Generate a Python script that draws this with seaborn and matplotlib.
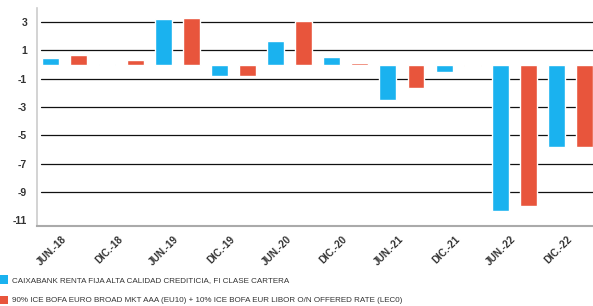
import matplotlib
matplotlib.use("Agg")
import matplotlib.pyplot as plt
import seaborn as sns
import pandas as pd
from matplotlib.patches import Patch

categories = ["JUN.-18", "DIC.-18", "JUN.-19", "DIC.-19", "JUN.-20", "DIC.-20",
              "JUN.-21", "DIC.-21", "JUN.-22", "DIC.-22"]
fund_values = [0.5, 0.02, 3.2, -0.8, 1.7, 0.55, -2.5, -0.55, -10.3, -5.8]
bench_values = [0.7, 0.35, 3.3, -0.8, 3.1, 0.15, -1.65, -0.1, -10.0, -5.8]
series_names = ["CAIXABANK RENTA FIJA ALTA CALIDAD CREDITICIA, FI CLASE CARTERA",
                "90% ICE BOFA EURO BROAD MKT AAA (EU10) + 10% ICE BOFA EUR LIBOR O/N OFFERED RATE (LEC0)"]
y_ticks = [-11, -9, -7, -5, -3, -1, 1, 3]
colors = ["#1ab2ef", "#e8553c"]

df = pd.DataFrame({
    "cat": categories * 2,
    "val": fund_values + bench_values,
    "serie": [series_names[0]] * len(categories) + [series_names[1]] * len(categories),
})

sns.set_style("white")
plt.rcParams["font.family"] = ["Liberation Sans", "DejaVu Sans"]

fig = plt.figure(figsize=(5.93, 3.06), dpi=100)
ax = fig.add_axes([0.062, 0.261, 0.938, 0.713])

sns.barplot(data=df, x="cat", y="val", hue="serie", order=categories,
            hue_order=series_names, palette=colors, width=1.0, gap=0.4,
            ax=ax, legend=False, errorbar=None, saturation=1)

ax.set_xlim(-0.5, 9.4)
ax.set_ylim(-11.4, 4)
ax.set_yticks(y_ticks)
ax.set_yticklabels([str(t) for t in y_ticks], fontsize=7.5, fontweight="bold", color="#333333")
for t in y_ticks:
    if t != -11:
        ax.axhline(t, xmin=0.008, xmax=1, color="#111111", lw=0.9, zorder=0)
ax.set_xticks(range(len(categories)))
ax.set_xticklabels(categories, rotation=45, fontsize=7.2, fontweight="bold",
                   color="#333333", ha="right", va="center", rotation_mode="anchor")
ax.set_xlabel("")
ax.set_ylabel("")
for s in ["top", "right"]:
    ax.spines[s].set_visible(False)
ax.spines["left"].set_color("#cccccc")
ax.spines["bottom"].set_color("#aaaaaa")
ax.spines["left"].set_linewidth(1.2)
ax.spines["bottom"].set_linewidth(1.5)
ax.tick_params(axis="x", length=3, color="#aaaaaa", pad=5.5, width=0.8)
ax.tick_params(axis="y", length=0, pad=7)
ax.set_axisbelow(True)

handles = [Patch(facecolor=c, edgecolor="none") for c in colors]
fig.legend(handles, series_names, loc="upper left", bbox_to_anchor=(0.0, 0.1),
           frameon=False, fontsize=5.8, handlelength=1.0, handleheight=1.2,
           handletextpad=0.5, labelspacing=1.4, borderaxespad=0, borderpad=0,
           labelcolor="#333333")

fig.savefig("out.png", dpi=100)
